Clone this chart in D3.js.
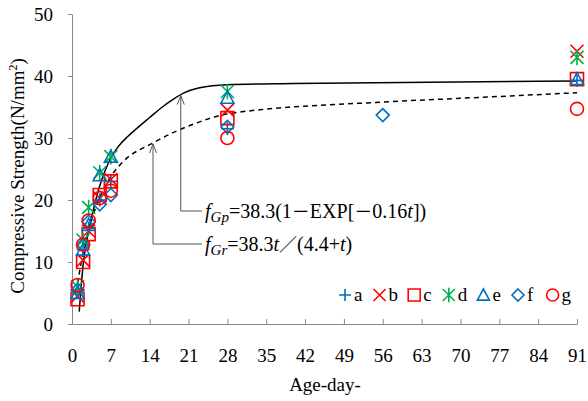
<!DOCTYPE html>
<html>
<head>
<meta charset="utf-8">
<script src="https://cdn.jsdelivr.net/npm/d3@7"></script>
<style>
body { margin: 0; background: #fff; }
svg { font-family: "Liberation Serif", "Times New Roman", serif; }
</style>
</head>
<body>
<svg width="588" height="401"></svg>
<script>
// data
var ages = [1, 2, 3, 5, 7, 28, 91];
var agesF = [1, 2, 3, 5, 7, 28, 56];
var seriesA = [5.2, 12, 15.5, 20, 23, 31.5, 39.3];
var seriesB = [4.5, 10.3, 15, 20.3, 23.3, 34.5, 44];
var seriesC = [4, 10, 14.5, 20.8, 23, 33.2, 39.5];
var seriesD = [6, 13.5, 18.8, 24.4, 27, 37.5, 43];
var seriesE = [5, 12, 16, 24, 27, 36.5, 39.5];
var seriesF = [5.5, 12.8, 16.5, 19.3, 20.8, 31.8, 33.7];
var seriesG = [6.3, 12.8, 16.7, 20.3, 21.5, 30, 34.7];

// fitted curves as drawn
var gpT = [1.3, 2, 3, 4, 5, 6, 7, 8, 9, 10, 12, 14, 16, 18, 20, 23, 28, 40, 91];
var gpV = [2, 9.5, 15, 19, 22.3, 24.8, 26.8, 28.2, 29.3, 30.2, 31.8, 33.3, 34.8, 36.1, 37.2, 38.1, 38.6, 38.8, 39.2];
var grT = [1, 2, 3, 5, 7, 9, 14.6, 23, 28, 56, 70, 91];
var grV = [6.5, 11.5, 15.2, 20.4, 23.8, 26, 29.2, 32.6, 33.9, 35.8, 36.4, 37.3];

var xTicks = [0, 7, 14, 21, 28, 35, 42, 49, 56, 63, 70, 77, 84, 91];
var yTicks = [0, 10, 20, 30, 40, 50];

var blue = "#0070C0", red = "#FF0000", green = "#00B050";

var svg = d3.select("svg");
var x = d3.scaleLinear().domain([0, 91]).range([72, 577]);
var y = d3.scaleLinear().domain([0, 50]).range([324, 14]);

// marker shapes, r = half size
function shape(kind, r) {
    var p = d3.path();
    if (kind == "plus") {
        p.moveTo(-r, 0); p.lineTo(r, 0); p.moveTo(0, -r); p.lineTo(0, r);
    } else if (kind == "cross") {
        p.moveTo(-r, -r); p.lineTo(r, r); p.moveTo(-r, r); p.lineTo(r, -r);
    } else if (kind == "square") {
        p.rect(-r, -r, 2 * r, 2 * r);
    } else if (kind == "star") {
        p.moveTo(-r, -r); p.lineTo(r, r); p.moveTo(-r, r); p.lineTo(r, -r);
        p.moveTo(0, -r * 1.2); p.lineTo(0, r * 1.2);
    } else if (kind == "triangle") {
        p.moveTo(0, -r); p.lineTo(r, r * 0.85); p.lineTo(-r, r * 0.85); p.closePath();
    } else if (kind == "diamond") {
        p.moveTo(0, -r); p.lineTo(r, 0); p.lineTo(0, r); p.lineTo(-r, 0); p.closePath();
    } else {
        p.arc(0, 0, r, 0, 2 * Math.PI);
    }
    return p.toString();
}

var series = [
    { name: "a", kind: "plus", color: blue, t: ages, v: seriesA },
    { name: "b", kind: "cross", color: red, t: ages, v: seriesB },
    { name: "c", kind: "square", color: red, t: ages, v: seriesC },
    { name: "d", kind: "star", color: green, t: ages, v: seriesD },
    { name: "e", kind: "triangle", color: blue, t: ages, v: seriesE },
    { name: "f", kind: "diamond", color: blue, t: agesF, v: seriesF },
    { name: "g", kind: "circle", color: red, t: ages, v: seriesG }
];

// axes
var xAxis = svg.append("g").attr("transform", "translate(0," + y(0) + ")")
    .call(d3.axisBottom(x).tickValues(xTicks).tickSizeInner(-5).tickSizeOuter(0).tickPadding(0));
xAxis.selectAll("text").attr("dy", null).attr("y", 38);
var yAxis = svg.append("g").attr("transform", "translate(" + x(0) + ",0)")
    .call(d3.axisLeft(y).tickValues(yTicks).tickSize(4).tickSizeOuter(0).tickPadding(15));
[xAxis, yAxis].forEach(function(g) {
    g.select(".domain").attr("stroke", "#898989");
    g.selectAll(".tick line").attr("stroke", "#898989");
    g.selectAll("text").attr("font-family", "Liberation Serif").attr("font-size", 19).attr("fill", "#000");
});

// curves
var line = d3.line().curve(d3.curveMonotoneX)
    .x(function(d) { return x(d[0]); }).y(function(d) { return y(d[1]); });
svg.append("path").attr("d", line(d3.zip(grT, grV)))
    .attr("fill", "none").attr("stroke", "#000").attr("stroke-width", 1.5).attr("stroke-dasharray", "5,4");
svg.append("path").attr("d", line(d3.zip(gpT, gpV)))
    .attr("fill", "none").attr("stroke", "#000").attr("stroke-width", 1.5);

// annotation arrows
var cjk = "Noto Sans CJK JP";
var notes = [
    { t: 19.6, v: 37.0, yEnd: 211, label: "Gp",
      parts: [["=38.3(1"], ["－", cjk], ["EXP["], ["－", cjk], ["0.16"], ["t", "i"], ["])"]] },
    { t: 14.6, v: 29.2, yEnd: 244, label: "Gr",
      parts: [["=38.3"], ["t", "i"], ["／", cjk], ["(4.4+"], ["t", "i"], [")"]] }
];
notes.forEach(function(n) {
    var px = x(n.t), py = y(n.v) + 1;
    svg.append("path")
        .attr("d", "M" + px + "," + py + "V" + n.yEnd + "H202")
        .attr("fill", "none").attr("stroke", "#555").attr("stroke-width", 1);
    svg.append("path")
        .attr("d", "M" + (px - 3.5) + "," + (py + 9) + "L" + px + "," + py + "L" + (px + 3.5) + "," + (py + 9))
        .attr("fill", "none").attr("stroke", "#555").attr("stroke-width", 1);
    var tx = svg.append("text").attr("x", 205).attr("y", n.yEnd + 7).attr("font-size", 20);
    tx.append("tspan").attr("font-style", "italic").text("f");
    tx.append("tspan").attr("font-style", "italic").attr("font-size", 15).attr("dy", 4).text(n.label);
    n.parts.forEach(function(p, i) {
        var ts = tx.append("tspan").text(p[0]);
        if (i == 0) ts.attr("dy", -4);
        if (p[1] == "i") ts.attr("font-style", "italic");
        else if (p[1]) ts.attr("font-family", p[1]).attr("font-size", 18);
    });
});

// markers
series.forEach(function(s) {
    svg.append("g").selectAll("path")
        .data(d3.zip(s.t, s.v))
        .enter().append("path")
        .attr("transform", function(d) { return "translate(" + x(d[0]) + "," + y(d[1]) + ")"; })
        .attr("d", shape(s.kind, 6.5))
        .attr("fill", "none").attr("stroke", s.color).attr("stroke-width", 1.6);
});

// legend
var leg = svg.append("g").selectAll("g").data(series).enter().append("g")
    .attr("transform", function(d, i) { return "translate(" + (345 + i * 34.6) + ",295)"; });
leg.append("path").attr("d", function(d) { return shape(d.kind, 6); })
    .attr("fill", "none").attr("stroke", function(d) { return d.color; }).attr("stroke-width", 1.6);
leg.append("text").attr("x", 9).attr("y", 6).attr("font-size", 19).text(function(d) { return d.name; });

// axis titles
svg.append("text").attr("x", 325).attr("y", 391).attr("text-anchor", "middle")
    .attr("font-size", 19).text("Age-day-");
var yt = svg.append("text").attr("transform", "translate(24,176) rotate(-90)")
    .attr("text-anchor", "middle").attr("font-size", 19);
yt.append("tspan").text("Compressive Strength(N/mm");
yt.append("tspan").attr("font-size", 12).attr("dy", -7).text("2");
yt.append("tspan").attr("dy", 7).text(")");
</script>
</body>
</html>
